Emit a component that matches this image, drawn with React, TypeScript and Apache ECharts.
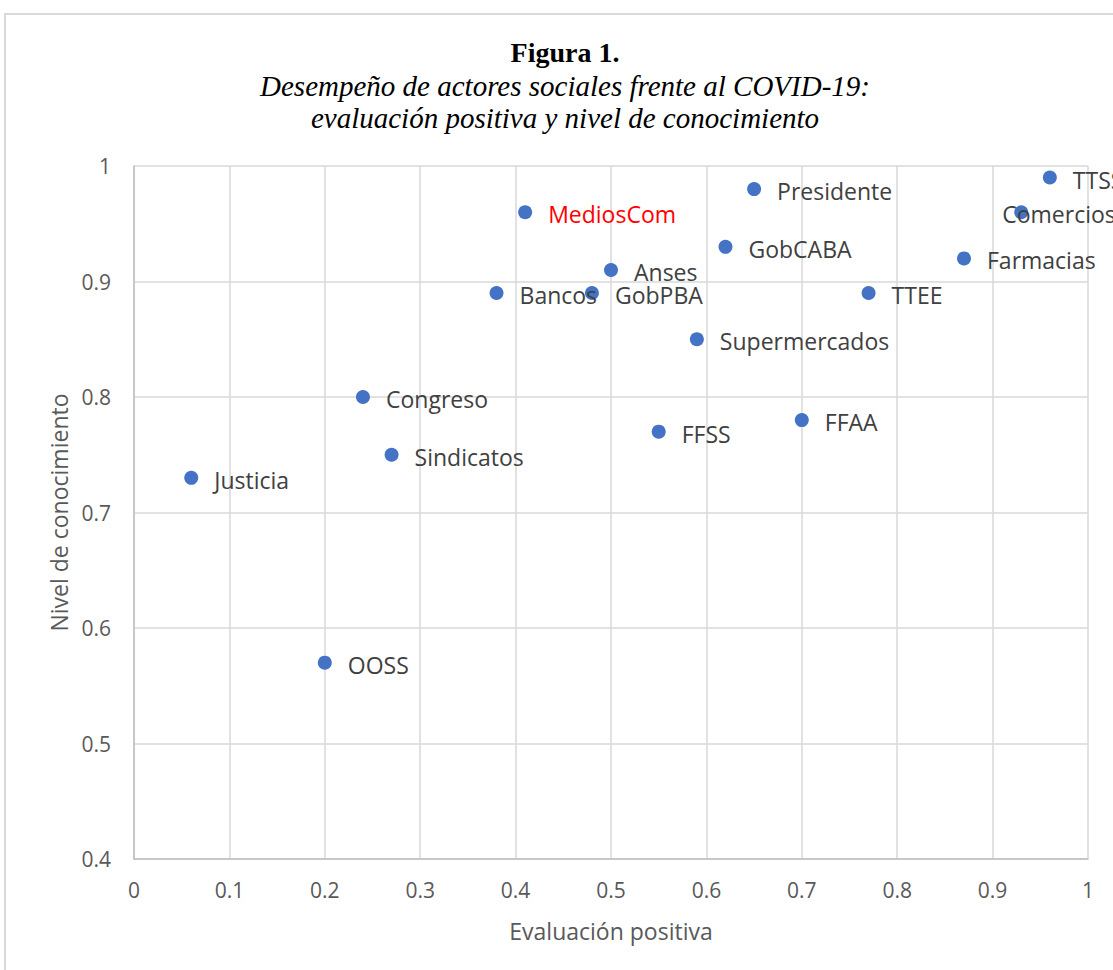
import React, { useEffect, useRef } from "react";
import * as echarts from "echarts";

const actors = ["MediosCom", "Presidente", "TTSS", "Comercios", "GobCABA", "Farmacias", "Anses", "Bancos", "GobPBA", "TTEE", "Supermercados", "Congreso", "FFAA", "FFSS", "Sindicatos", "Justicia", "OOSS"];
const evaluacion = [0.41, 0.65, 0.96, 0.93, 0.62, 0.87, 0.50, 0.38, 0.48, 0.77, 0.59, 0.24, 0.70, 0.55, 0.27, 0.06, 0.20];
const conocimiento = [0.96, 0.98, 0.99, 0.96, 0.93, 0.92, 0.91, 0.89, 0.89, 0.89, 0.85, 0.80, 0.78, 0.77, 0.75, 0.73, 0.57];
const highlighted = ["MediosCom"];

export default function App() {
  const ref = useRef<HTMLDivElement>(null);
  useEffect(() => {
    if (!ref.current) return;
    const chart = echarts.init(ref.current, null, { renderer: "svg" });
    const data = actors.map((name, i) => {
      const item: any = { name, value: [evaluacion[i], conocimiento[i]] };
      if (highlighted.includes(name)) item.label = { color: "#FF0000" };
      if (name === "Comercios") item.label = { offset: [-42, 2] };
      return item;
    });
    chart.setOption({
      animation: false,
      backgroundColor: "#ffffff",
      graphic: [
        {
          type: "rect",
          shape: { x: 5, y: 14, width: 1300, height: 1100 },
          style: { fill: "none", stroke: "#d9d9d9", lineWidth: 2 },
          silent: true,
        },
        {
          type: "text",
          x: 565,
          y: 52,
          style: { text: "Figura 1.", font: "bold 28px 'Liberation Serif'", fill: "#000", align: "center", verticalAlign: "middle" },
        },
        {
          type: "text",
          x: 565,
          y: 86,
          style: { text: "Desempeño de actores sociales frente al COVID-19:", font: "italic 29px 'Liberation Serif'", fill: "#000", align: "center", verticalAlign: "middle" },
        },
        {
          type: "text",
          x: 565,
          y: 118,
          style: { text: "evaluación positiva y nivel de conocimiento", font: "italic 29px 'Liberation Serif'", fill: "#000", align: "center", verticalAlign: "middle" },
        },
      ],
      grid: { left: 134, top: 166, right: 25, bottom: 111, containLabel: false },
      xAxis: {
        type: "value",
        min: 0,
        max: 1,
        interval: 0.1,
        name: "Evaluación positiva",
        nameLocation: "middle",
        nameGap: 60,
        nameTextStyle: { fontFamily: "Open Sans", fontSize: 23, color: "#595959" },
        axisLine: { show: true, lineStyle: { color: "#bfbfbf", width: 1.5 } },
        axisTick: { show: false },
        axisLabel: { fontFamily: "Open Sans", fontSize: 21, color: "#595959", margin: 20, formatter: (v: number) => String(Math.round(v * 10) / 10) },
        splitLine: { show: true, lineStyle: { color: "#d9d9d9", width: 1.5 } },
      },
      yAxis: {
        type: "value",
        min: 0.4,
        max: 1,
        interval: 0.1,
        name: "Nivel de conocimiento",
        nameLocation: "middle",
        nameGap: 62,
        nameTextStyle: { fontFamily: "Open Sans", fontSize: 23, color: "#595959" },
        axisLine: { show: true, lineStyle: { color: "#bfbfbf", width: 1.5 } },
        axisTick: { show: false },
        axisLabel: { fontFamily: "Open Sans", fontSize: 21, color: "#595959", margin: 23, formatter: (v: number) => String(Math.round(v * 10) / 10) },
        splitLine: { show: true, lineStyle: { color: "#d9d9d9", width: 1.5 } },
      },
      series: [
        {
          type: "scatter",
          symbol: "circle",
          symbolSize: 14,
          clip: false,
          itemStyle: { color: "#4472C4", opacity: 1 },
          label: {
            show: true,
            position: "right",
            distance: 16,
            offset: [0, 2],
            formatter: (p: any) => p.name,
            fontFamily: "Open Sans",
            fontSize: 23,
            color: "#404040",
          },
          data,
        },
      ],
    });
    return () => chart.dispose();
  }, []);
  return <div ref={ref} style={{ position: "absolute", left: 0, top: 0, width: 1113, height: 970 }} />;
}
